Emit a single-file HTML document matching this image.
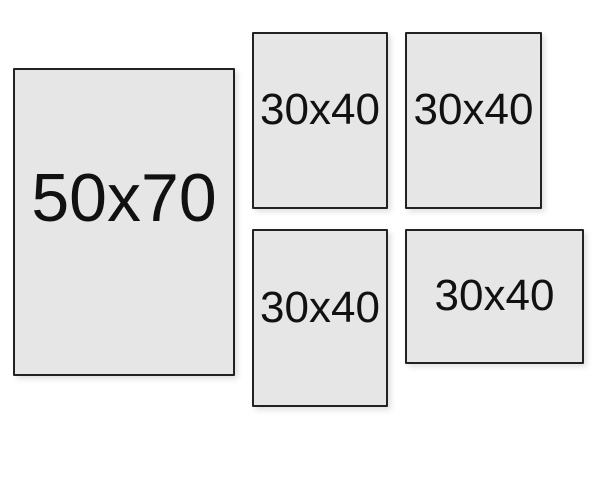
<!DOCTYPE html>
<html><head><style>
body{margin:0;width:600px;height:480px;background:#fff;position:relative;overflow:hidden;font-family:"Liberation Sans",sans-serif;}
.r{position:absolute;box-sizing:border-box;border:2px solid #222;background:#e6e6e6;box-shadow:3px 3px 6px rgba(0,0,0,0.12);border-radius:1px}
.t{position:absolute;left:0;right:0;text-align:center;color:#111;line-height:1;}
</style></head><body>
<div class="r" style="left:13px;top:68px;width:222px;height:308px"><div class="t" style="font-size:68px;top:94px">50x70</div></div>
<div class="r" style="left:252px;top:32px;width:136px;height:177px"><div class="t" style="font-size:44px;top:54px">30x40</div></div>
<div class="r" style="left:405px;top:32px;width:137px;height:177px"><div class="t" style="font-size:44px;top:54px">30x40</div></div>
<div class="r" style="left:252px;top:229px;width:136px;height:178px"><div class="t" style="font-size:44px;top:55px">30x40</div></div>
<div class="r" style="left:405px;top:229px;width:179px;height:135px"><div class="t" style="font-size:44px;top:43px">30x40</div></div>
</body></html>
